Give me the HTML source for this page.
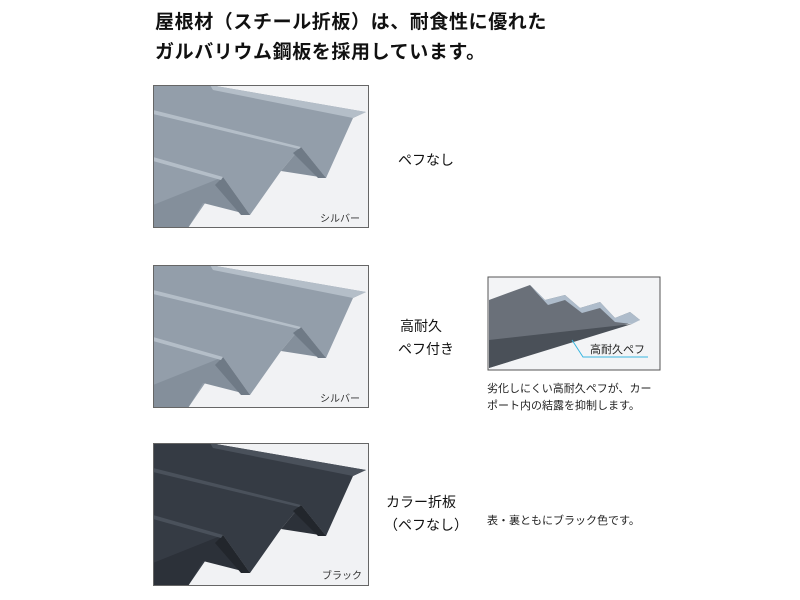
<!DOCTYPE html>
<html><head><meta charset="utf-8"><style>
body{margin:0;width:800px;height:600px;background:#fff;position:relative;font-family:"Liberation Sans","Noto Sans CJK JP",sans-serif;overflow:hidden}
.t{position:absolute;white-space:nowrap;color:#111}
.h{font-size:19px;font-weight:bold;left:155px;letter-spacing:0.6px}
.l{font-size:14px}
.s{font-size:11px;color:#222}
svg{position:absolute;left:0;top:0}
</style></head><body>
<div class="t h" style="top:7px">屋根材（スチール折板）は、耐食性に優れた</div>
<div class="t h" style="top:37px">ガルバリウム鋼板を採用しています。</div>
<div class="t l" style="left:398px;top:150px">ペフなし</div>
<div class="t l" style="left:400px;top:316px">高耐久</div>
<div class="t l" style="left:398px;top:339px">ペフ付き</div>
<div class="t l" style="left:386px;top:492px">カラー折板</div>
<div class="t l" style="left:384px;top:515px">（ペフなし）</div>
<div class="t s" style="left:487px;top:380px">劣化しにくい高耐久ペフが、カー</div>
<div class="t s" style="left:487px;top:397px">ポート内の結露を抑制します。</div>
<div class="t s" style="left:487px;top:512px">表・裏ともにブラック色です。</div>
<svg width="800" height="600">
<defs>
<g id="sheet">
<rect x="0" y="0" width="216" height="143" fill="#f1f2f4"/>
<polygon points="0,0 57,0 213,27 200,33 173,93 148,62 128,86 97,130 70,92 35,143 0,143" style="fill:var(--m)"/>
<polygon points="148,62 173,93 128,86" style="fill:var(--d)"/>
<polygon points="70,92 97,130 50,118 35,143 0,143 0,120" style="fill:var(--d)"/>
<polygon points="148,62 173,93 165,93 140,68" style="fill:var(--k)"/>
<polygon points="70,92 97,130 88,130 62,100" style="fill:var(--k)"/>
<polygon points="0,25 148,62 146,64 0,29" style="fill:var(--li)"/>
<polygon points="0,72 70,92 68,95 0,76" style="fill:var(--li)"/>
<polygon points="57,0 213,27 200,33 60,5" style="fill:var(--li)"/>
<rect x="0.5" y="0.5" width="215" height="142" fill="none" stroke="#666" stroke-width="1"/>
</g>
</defs>
<g style="--m:#939eaa;--d:#848f9b;--k:#6f7a86;--li:#b4bec8" transform="translate(153,85)"><use href="#sheet"/></g>
<g style="--m:#939eaa;--d:#848f9b;--k:#6f7a86;--li:#b4bec8" transform="translate(153,265)"><use href="#sheet"/></g>
<g style="--m:#353b44;--d:#2c3139;--k:#22262c;--li:#4a515b" transform="translate(153,443)"><use href="#sheet"/></g>
<text x="320" y="222" font-size="10" fill="#333" font-family="Liberation Sans,Noto Sans CJK JP,sans-serif">シルバー</text>
<text x="320" y="402" font-size="10" fill="#333" font-family="Liberation Sans,Noto Sans CJK JP,sans-serif">シルバー</text>
<text x="322" y="579" font-size="10" fill="#333" font-family="Liberation Sans,Noto Sans CJK JP,sans-serif">ブラック</text>
<rect x="488" y="277" width="172" height="93" fill="#f3f4f6" stroke="#555"/>
<polygon points="489,300 530,285 545,300 565,295 580,308 600,302 615,318 630,312 640,320 489,368" fill="#6a7079"/>
<polygon points="530,285 545,300 565,295 580,308 600,302 615,318 630,312 640,320 632,324 615,322 600,308 582,313 565,300 548,305 536,292" fill="#aebccb"/>
<polygon points="489,340 632,324 489,368" fill="#4a5058"/>
<polyline points="572,340 583,357 648,357" fill="none" stroke="#38b6e0" stroke-width="1"/>
<text x="590" y="353" font-size="11" fill="#222" font-family="Liberation Sans,Noto Sans CJK JP,sans-serif">高耐久ペフ</text>
</svg>
</body></html>
